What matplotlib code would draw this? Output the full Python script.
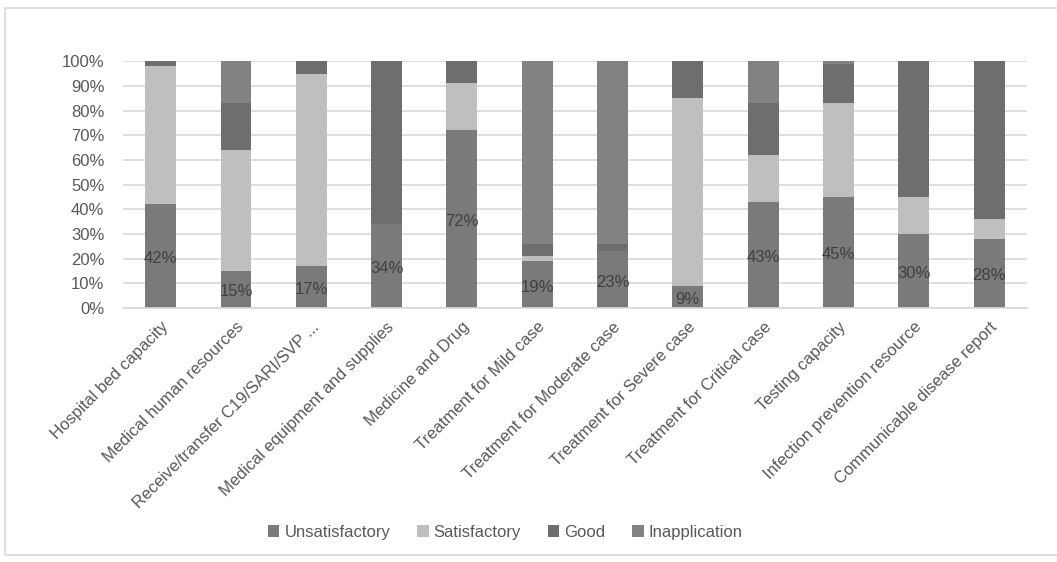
import numpy as np
import matplotlib.pyplot as plt
from matplotlib.patches import Rectangle

# DATA

categories = [
    "Hospital bed capacity",
    "Medical human resources",
    "Receive/transfer C19/SARI/SVP ...",
    "Medical equipment and supplies",
    "Medicine and Drug",
    "Treatment for Mild case",
    "Treatment for Moderate case",
    "Treatment for Severe case",
    "Treatment for Critical case",
    "Testing capacity",
    "Infection prevention resource",
    "Communicable disease report",
]

unsatisfactory = [42, 15, 17, 34, 72, 19, 23, 9, 43, 45, 30, 28]
satisfactory = [56, 49, 78, 0, 19, 2, 0, 76, 19, 38, 15, 8]
good = [2, 19, 5, 66, 9, 5, 3, 15, 21, 16, 55, 64]
inapplication = [0, 17, 0, 0, 0, 74, 74, 0, 17, 1, 0, 0]

series_names = ["Unsatisfactory", "Satisfactory", "Good", "Inapplication"]
series_colors = ["#7a7a7a", "#bfbfbf", "#6e6e6e", "#828282"]


# PLOT

plt.rcParams["font.family"] = ["Liberation Sans", "DejaVu Sans"]

fig = plt.figure(figsize=(10.57, 5.62), dpi=100)
ax = fig.add_axes([0.1164, 0.452, 0.855, 0.439])

x = np.arange(len(categories))
width = 0.41
bottom = np.zeros(len(categories))

for name, vals, col in zip(series_names,
                           [unsatisfactory, satisfactory, good, inapplication],
                           series_colors):
    vals = np.array(vals, dtype=float)
    ax.bar(x, vals, width, bottom=bottom, color=col, label=name, zorder=2)
    bottom += vals

# data labels on the Unsatisfactory segment
for xi, v in zip(x, unsatisfactory):
    ax.text(xi, v / 2 - 1, f"{v}%", ha="center", va="center",
            fontsize=12, color="#404040", zorder=3)

ax.set_xlim(-0.5, len(categories) - 0.5)
ax.set_ylim(0, 100)
ax.set_yticks(np.arange(0, 101, 10))
ax.set_yticklabels([f"{t}%" for t in range(0, 101, 10)])
ax.yaxis.grid(True, color="#d9d9d9", linewidth=1.2, zorder=0)
ax.set_axisbelow(True)

for s in ["top", "right", "left"]:
    ax.spines[s].set_visible(False)
ax.spines["bottom"].set_color("#d9d9d9")
ax.spines["bottom"].set_linewidth(1.2)

ax.tick_params(axis="both", length=0, labelsize=12, colors="#595959")
ax.tick_params(axis="y", pad=13.5)

ax.set_xticks(x)
ax.set_xticklabels(categories, rotation=45, ha="right", va="top",
                   rotation_mode="anchor")
ax.tick_params(axis="x", pad=8)

leg = fig.legend(loc="center", bbox_to_anchor=(0.478, 0.053), ncol=4,
                 frameon=False, fontsize=12, handlelength=0.7,
                 handleheight=0.7, handletextpad=0.3, columnspacing=1.6,
                 labelcolor="#595959")

# outer frame of the chart area
fig.patches.append(Rectangle((5 / 1057, 1 - 555 / 562), 1.2, (555 - 8) / 562,
                             transform=fig.transFigure, fill=False,
                             edgecolor="#d9d9d9", linewidth=1.2))

fig.savefig("out.png", dpi=100)
